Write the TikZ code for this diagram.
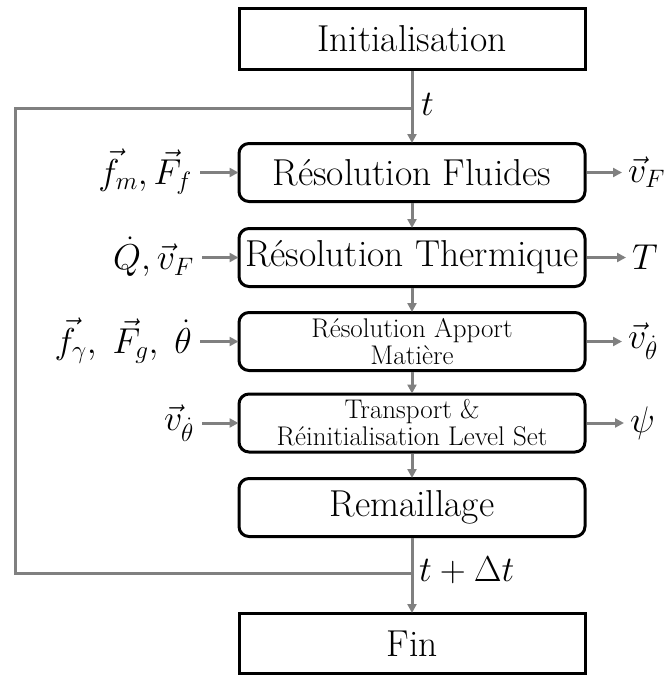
\RequirePackage{fix-cm}
\documentclass[tikz,border=0pt]{standalone}
\usepackage{fontspec}
\usetikzlibrary{arrows.meta}
\definecolor{ln}{RGB}{128,128,128}
\begin{document}
\begin{tikzpicture}[x=1pt,y=-1pt,
  box/.style={draw=black, line width=3pt, minimum width=346pt, inner sep=0pt, align=center, font=\fontsize{37.5}{39}\selectfont},
  rbox/.style={box, rounded corners=10pt, minimum height=58pt},
  sbox/.style={rbox, font=\fontsize{27}{27}\selectfont},
  conn/.style={draw=ln, line width=3pt},
  arr/.style={conn, -{Triangle[length=9pt,width=9pt]}, shorten >=-1pt},
  lab/.style={inner sep=0pt, font=\fontsize{36}{38}\selectfont}
]
\useasboundingbox (0,0) rectangle (664,675);
\node[box, minimum height=61pt] (init) at (412,39) {Initialisation};
\node[rbox] (b1) at (412,172.5) {R\'esolution Fluides};
\node[rbox] (b2) at (412,257.5) {R\'esolution Thermique};
\node[sbox] (b3) at (412,341.5) {R\'esolution Apport\\Mati\`ere};
\node[sbox] (b4) at (412,423) {Transport \&\\R\'einitialisation Level Set};
\node[rbox] (b5) at (412,507.5) {Remaillage};
\node[box, minimum height=60pt] (fin) at (412,643.5) {Fin};

% left labels
\node[lab, anchor=east] (l1) at (192,172) {$\vec{f}_m,\vec{F}_f$};
\node[lab, anchor=east] (l2) at (194,257) {$\dot{Q},\vec{v}_F$};
\node[lab, anchor=east] (l3) at (192,341) {$\vec{f}_\gamma,\;\vec{F}_g,\;\dot{\theta}$};
\node[lab, anchor=east] (l4) at (194,423) {$\vec{v}_{\dot\theta}$};
% right labels
\node[lab, anchor=west] (r1) at (628,172) {$\vec{v}_F$};
\node[lab, anchor=west] (r2) at (632,257) {$T$};
\node[lab, anchor=west] (r3) at (628,341) {$\vec{v}_{\dot\theta}$};
\node[lab, anchor=west, font=\fontsize{37}{39}\selectfont] (r4) at (630,423) {$\psi$};

\foreach \i in {1,2,3,4}{
  \draw[arr] ([xshift=8pt]l\i.east |- b\i.west) -- (b\i.west);
  \draw[arr] (b\i.east) -- ([xshift=-7pt]r\i.west |- b\i.east);
}
\draw[arr] (b1) -- (b2);
\draw[arr] (b2) -- (b3);
\draw[arr] (b3) -- (b4);
\draw[arr] (b4) -- (b5);

% loop
\coordinate (jt) at (412,108);
\coordinate (lt) at (15,108);
\coordinate (jb) at (412,573);
\coordinate (lb) at (15,573);
\draw[arr] (init) -- (b1);
\draw[arr] (b5) -- (fin);
\draw[conn] (jb) -- (lb) -- (lt) -- (jt);
\node[lab, anchor=west] (tl) at (421,104) {$t$};
\node[lab, anchor=west] (tdl) at (419,570) {$t+\Delta t$};
\end{tikzpicture}
\end{document}
